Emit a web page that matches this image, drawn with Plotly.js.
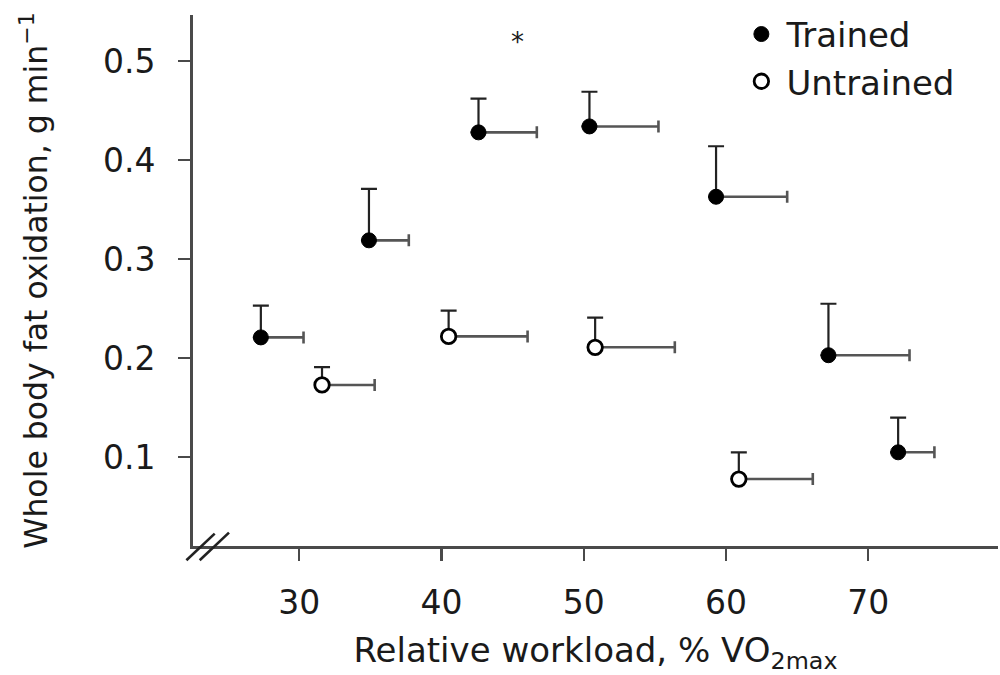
<!DOCTYPE html>
<html>
<head>
<meta charset="utf-8">
<script src="https://cdn.plot.ly/plotly-3.0.1.min.js"></script>
<style>html,body{margin:0;padding:0;background:#fff;}#chart{width:1000px;height:675px;}</style>
</head>
<body>
<div id="chart"></div>
<script>
// Trained group
const trainedX = [27.3, 34.9, 42.6, 50.4, 59.3, 67.2, 72.1];
const trainedY = [0.221, 0.319, 0.428, 0.434, 0.363, 0.203, 0.105];
const trainedXErr = [3.0, 2.8, 4.1, 4.85, 5.0, 5.7, 2.55];
const trainedYErr = [0.032, 0.052, 0.034, 0.035, 0.051, 0.052, 0.035];

// Untrained group
const untrainedX = [31.6, 40.5, 50.8, 60.9];
const untrainedY = [0.173, 0.222, 0.211, 0.078];
const untrainedXErr = [3.7, 5.55, 5.6, 5.2];
const untrainedYErr = [0.018, 0.026, 0.030, 0.027];

const xTicks = [30, 40, 50, 60, 70];
const yTicks = [0.1, 0.2, 0.3, 0.4, 0.5];
const yTickText = ['0.1', '0.2', '0.3', '0.4', '0.5'];

const FONT = 'DejaVu Sans, Arial, sans-serif';
const INK = '#1a1a1a';
const AXIS = '#4a4a4a';

const zeros = n => new Array(n).fill(0);

const errStyleY = {color: '#222', thickness: 2.2, width: 8};
const errStyleX = {color: '#555', thickness: 2.6, width: 6};

const traces = [
  {
    type: 'scatter', mode: 'markers', name: 'Trained',
    x: trainedX, y: trainedY,
    marker: {symbol: 'circle', size: 15, color: '#000', line: {color: '#000', width: 1}},
    error_y: Object.assign({type: 'data', symmetric: false, array: trainedYErr, arrayminus: zeros(trainedY.length)}, errStyleY),
    error_x: Object.assign({type: 'data', symmetric: false, array: trainedXErr, arrayminus: zeros(trainedX.length)}, errStyleX),
    cliponaxis: false
  },
  {
    type: 'scatter', mode: 'markers', name: 'Untrained',
    x: untrainedX, y: untrainedY,
    marker: {symbol: 'circle', size: 14.5, color: '#fff', line: {color: '#000', width: 2.8}},
    error_y: Object.assign({type: 'data', symmetric: false, array: untrainedYErr, arrayminus: zeros(untrainedY.length)}, errStyleY),
    error_x: Object.assign({type: 'data', symmetric: false, array: untrainedXErr, arrayminus: zeros(untrainedX.length)}, errStyleX),
    cliponaxis: false
  }
];

const layout = {
  width: 1000, height: 675,
  margin: {l: 193, r: 2, t: 15, b: 129, pad: 0},
  paper_bgcolor: '#fff', plot_bgcolor: '#fff',
  font: {family: FONT, color: INK, size: 33},
  showlegend: true,
  legend: {
    x: 0.675, y: 1.018, xanchor: 'left', yanchor: 'top',
    bgcolor: 'rgba(0,0,0,0)', borderwidth: 0,
    font: {family: FONT, size: 34, color: INK},
    tracegroupgap: 0, itemwidth: 40
  },
  xaxis: {
    range: [22.53, 79.12],
    tickmode: 'array', tickvals: xTicks, ticktext: xTicks.map(String),
    showgrid: false, zeroline: false,
    showline: true, linecolor: AXIS, linewidth: 2.8,
    ticks: 'outside', ticklen: 12, tickwidth: 2.2, tickcolor: AXIS,
    tickfont: {family: FONT, size: 33, color: INK},
    ticklabelstandoff: 14,
    title: {text: 'Relative workload, % VO<sub>2max</sub>', font: {family: FONT, size: 34, color: INK}, standoff: 22},
    automargin: false
  },
  yaxis: {
    range: [0.0104, 0.5465],
    tickmode: 'array', tickvals: yTicks, ticktext: yTickText,
    showgrid: false, zeroline: false,
    showline: true, linecolor: AXIS, linewidth: 2.8,
    ticks: 'outside', ticklen: 12, tickwidth: 2.2, tickcolor: AXIS,
    tickfont: {family: FONT, size: 33, color: INK},
    ticklabelstandoff: 16,
    title: {text: 'Whole body fat oxidation, g min<sup>−1</sup>', font: {family: FONT, size: 31.5, color: INK}, standoff: 46},
    automargin: false
  },
  annotations: [
    {x: 45.32, y: 0.519, xref: 'x', yref: 'y', text: '*', showarrow: false,
     font: {family: FONT, size: 26, color: INK}}
  ],
  shapes: [
    {type: 'line', xref: 'paper', yref: 'paper', xsizemode: 'pixel', ysizemode: 'pixel',
     xanchor: 0, yanchor: 0, x0: -6.6, y0: -14.3, x1: 21.7, y1: 12.4,
     line: {color: '#222', width: 2.6}},
    {type: 'line', xref: 'paper', yref: 'paper', xsizemode: 'pixel', ysizemode: 'pixel',
     xanchor: 0, yanchor: 0, x0: 6.7, y0: -14.3, x1: 36, y1: 13.4,
     line: {color: '#222', width: 2.6}}
  ]
};

Plotly.newPlot('chart', traces, layout, {displayModeBar: false, staticPlot: true});
</script>
</body>
</html>
